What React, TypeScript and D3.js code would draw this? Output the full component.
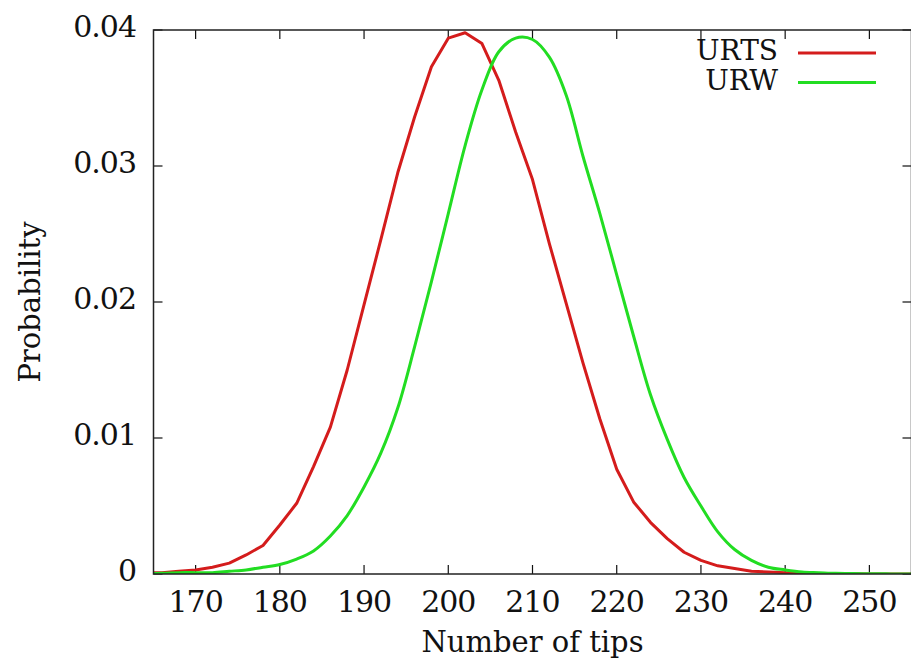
import React from 'react';
import * as d3 from 'd3';

// number of tips (sampled every 2)
const tips = [
  164, 166, 168, 170, 172, 174, 176, 178, 180, 182, 184, 186, 188, 190, 192, 194,
  196, 198, 200, 202, 204, 206, 208, 210, 212, 214, 216, 218, 220, 222, 224, 226,
  228, 230, 232, 234, 236, 238, 240, 242, 244, 246, 248, 250, 252, 254, 256,
];

const urts = [
  0.0001, 0.0001, 0.0002, 0.0003, 0.0005, 0.0008, 0.0014, 0.0021, 0.0036, 0.0052, 0.0079, 0.0108, 0.015, 0.0198, 0.0246, 0.0295,
  0.0336, 0.0373, 0.0394, 0.0398, 0.039, 0.0363, 0.0325, 0.029, 0.0243, 0.0199, 0.0155, 0.0114, 0.0077, 0.0053, 0.0038, 0.0026,
  0.0016, 0.001, 0.0006, 0.0004, 0.0002, 0.00015, 0.0001, 0.00005, 0.00003, 0.00002, 0.00001, 0, 0, 0, 0,
];

const urw = [
  0.00005, 0.00005, 0.0001, 0.0001, 0.0001, 0.0002, 0.0003, 0.0005, 0.0007, 0.0011, 0.0017, 0.0028, 0.0043, 0.0064, 0.0089, 0.0122,
  0.0167, 0.0215, 0.0265, 0.0315, 0.0356, 0.0384, 0.0394, 0.0393, 0.038, 0.0352, 0.0307, 0.0265, 0.022, 0.0175, 0.0132, 0.0099,
  0.0071, 0.005, 0.0031, 0.0018, 0.001, 0.0005, 0.0003, 0.00015, 0.0001, 0.00005, 0.00003, 0.00002, 0.00001, 0, 0,
];

const xTicks = [170, 180, 190, 200, 210, 220, 230, 240, 250];
const yTicks = [0, 0.01, 0.02, 0.03, 0.04];
const yTickLabels = ['0', '0.01', '0.02', '0.03', '0.04'];

const series = [
  { name: 'URTS', values: urts, color: '#d41c1c', smooth: false },
  { name: 'URW', values: urw, color: '#22dd22', smooth: true },
];

const App = () => {
  const width = 911;
  const height = 666;
  const left = 153.5, right = 911.5, top = 30, bottom = 574;
  const font = '"DejaVu Serif", serif';

  const x = d3.scaleLinear().domain([165, 255]).range([left, right]);
  const y = d3.scaleLinear().domain([0, 0.04]).range([bottom, top]);

  const tickLen = 9;

  return (
    <svg width={width} height={height} style={{ position: 'absolute', left: 0, top: 0, background: '#fff' }}>
      <defs>
        <clipPath id="plot">
          <rect x={left} y={top - 5} width={right - left} height={bottom - top + 5} />
        </clipPath>
      </defs>

      {/* ticks, mirrored on all sides */}
      <g stroke="#111" strokeWidth={1.2}>
        {xTicks.map(t => (
          <g key={t}>
            <line x1={x(t)} x2={x(t)} y1={bottom} y2={bottom - tickLen} />
            <line x1={x(t)} x2={x(t)} y1={top} y2={top + tickLen} />
          </g>
        ))}
        {yTicks.map(t => (
          <g key={t}>
            <line x1={left} x2={left + tickLen} y1={y(t)} y2={y(t)} />
            <line x1={right} x2={right - tickLen} y1={y(t)} y2={y(t)} />
          </g>
        ))}
      </g>

      {/* curves */}
      <g clipPath="url(#plot)">
        {series.map(s => {
          const line = d3.line<number>()
            .x((d, i) => x(tips[i]))
            .y(d => y(d))
            .curve(s.smooth ? d3.curveCatmullRom.alpha(0.5) : d3.curveLinear);
          return (
            <path key={s.name} d={line(s.values) || ''} fill="none" stroke={s.color}
              strokeWidth={3} strokeLinejoin="round" />
          );
        })}
      </g>

      {/* border */}
      <rect x={left} y={top} width={right - left} height={bottom - top} fill="none" stroke="#222" strokeWidth={1.5} />

      {/* tick labels */}
      <g fontFamily={font} fontSize={30} fill="#111" letterSpacing={-1}>
        {xTicks.map(t => (
          <text key={t} x={x(t)} y={612} textAnchor="middle">{t}</text>
        ))}
        {yTicks.map((t, i) => (
          <text key={t} x={136} y={y(t) + 7} textAnchor="end">{yTickLabels[i]}</text>
        ))}
      </g>

      {/* axis titles */}
      <text x={(left + right) / 2} y={652} textAnchor="middle" fontFamily={font} fontSize={29} fill="#111">
        Number of tips
      </text>
      <text transform={`translate(40, ${(top + bottom) / 2}) rotate(-90)`} textAnchor="middle"
        fontFamily={font} fontSize={29} fill="#111">
        Probability
      </text>

      {/* legend */}
      <g fontFamily={font} fontSize={28} fill="#111">
        {series.map((s, i) => (
          <g key={s.name}>
            <text x={778} y={60 + i * 30} textAnchor="end">{s.name}</text>
            <line x1={798} x2={876} y1={53 + i * 29.5} y2={53 + i * 29.5} stroke={s.color} strokeWidth={3} />
          </g>
        ))}
      </g>
    </svg>
  );
};

export default App;
